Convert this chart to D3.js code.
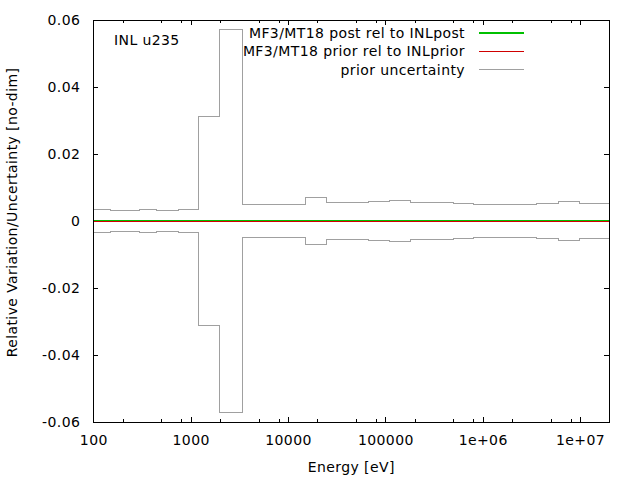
<!DOCTYPE html>
<html>
<head>
<meta charset="utf-8">
<script src="https://cdn.jsdelivr.net/npm/d3@7"></script>
<style>
  body { margin: 0; background: #fff; }
  text { font-family: "DejaVu Sans", sans-serif; font-size: 14px; fill: #000; letter-spacing: 0.4px; }
</style>
</head>
<body>
<div id="chart"></div>
<script>
// bin edges in eV and values per bin
var edges = [100, 150, 300, 450, 750, 1200, 2000, 3400, 15000, 25000, 67000,
  110000, 180000, 500000, 800000, 3.6e6, 6e6, 1e7, 2e7];
var priorUnc = [0.0035, 0.0032, 0.0035, 0.0032, 0.0035, 0.0313, 0.0573, 0.0050,
  0.0071, 0.0054, 0.0057, 0.0060, 0.0054, 0.0051, 0.0048, 0.0051, 0.0057, 0.0051];
var postRel = [0, 0, 0, 0, 0, 0, 0, 0, 0, 0, 0, 0, 0, 0, 0, 0, 0, 0];
var priorRel = [0, 0, 0, 0, 0, 0, 0, 0, 0, 0, 0, 0, 0, 0, 0, 0, 0, 0];

var xTicks = [100, 1000, 10000, 100000, 1e6, 1e7];
var xTickLabels = ["100", "1000", "10000", "100000", "1e+06", "1e+07"];
var xMinor = [200, 500, 800, 2000, 5000, 8000, 20000, 50000, 80000,
  2e5, 5e5, 8e5, 2e6, 5e6, 8e6];
var yTicks = [-0.06, -0.04, -0.02, 0, 0.02, 0.04, 0.06];
var yTickLabels = ["-0.06", "-0.04", "-0.02", "0", "0.02", "0.04", "0.06"];

var legendNames = ["MF3/MT18 post rel to INLpost", "MF3/MT18 prior rel to INLprior", "prior uncertainty"];
var colors = ["#00c000", "#d00000", "#a0a0a0"];

var svgWidth = 640;
var svgHeight = 480;
var plot = { left: 93.3, right: 609.3, top: 20, bottom: 422 };

var svg = d3.select("#chart")
  .append("svg")
  .attr("width", svgWidth)
  .attr("height", svgHeight);

var x = d3.scaleLog().domain([100, 2e7]).range([plot.left, plot.right]);
var y = d3.scaleLinear().domain([-0.06, 0.06]).range([plot.bottom, plot.top]);

// turn bin values into step points
function steps(vals, sign) {
  var pts = vals.map(function(v, i) { return [edges[i], sign * v]; });
  pts.push([edges[edges.length - 1], sign * vals[vals.length - 1]]);
  return pts;
}

var line = d3.line()
  .x(d => x(d[0]))
  .y(d => y(d[1]))
  .curve(d3.curveStepAfter);

// axes, ticks pointing inward like gnuplot
var xLabels = d3.scaleOrdinal().domain(xTicks).range(xTickLabels);
var yLabels = d3.scaleOrdinal().domain(yTicks).range(yTickLabels);

svg.append("g")
  .attr("transform", `translate(0, ${plot.bottom})`)
  .call(d3.axisBottom(x).tickValues(xTicks).tickSize(-5).tickPadding(13)
    .tickFormat(d => xLabels(d)));
svg.append("g")
  .attr("transform", `translate(0, ${plot.bottom})`)
  .call(d3.axisBottom(x).tickValues(xMinor).tickSize(-3).tickFormat(""));
svg.append("g")
  .attr("transform", `translate(0, ${plot.top})`)
  .call(d3.axisTop(x).tickValues(xTicks).tickSize(-5).tickFormat(""));
svg.append("g")
  .attr("transform", `translate(0, ${plot.top})`)
  .call(d3.axisTop(x).tickValues(xMinor).tickSize(-3).tickFormat(""));
svg.append("g")
  .attr("transform", `translate(${plot.left}, 0)`)
  .call(d3.axisLeft(y).tickValues(yTicks).tickSize(-5).tickPadding(13)
    .tickFormat(d => yLabels(d)));
svg.append("g")
  .attr("transform", `translate(${plot.right}, 0)`)
  .call(d3.axisRight(y).tickValues(yTicks).tickSize(-5).tickFormat(""));

svg.selectAll(".domain").remove();
svg.selectAll(".tick line").attr("stroke", "#000").attr("shape-rendering", "crispEdges");
svg.selectAll(".tick text").style("font-size", "14px").style("font-family", "DejaVu Sans");

// data lines
svg.append("path")
  .attr("d", line(steps(priorUnc, 1)))
  .attr("fill", "none").attr("stroke", colors[2]).attr("stroke-width", 1)
  .attr("shape-rendering", "crispEdges");
svg.append("path")
  .attr("d", line(steps(priorUnc, -1)))
  .attr("fill", "none").attr("stroke", colors[2]).attr("stroke-width", 1)
  .attr("shape-rendering", "crispEdges");
svg.append("path")
  .attr("d", line(steps(postRel, 1)))
  .attr("fill", "none").attr("stroke", colors[0]).attr("stroke-width", 2)
  .attr("shape-rendering", "crispEdges");
svg.append("path")
  .attr("d", line(steps(priorRel, 1)))
  .attr("transform", "translate(0, 0.5)")
  .attr("fill", "none").attr("stroke", colors[1]).attr("stroke-width", 1)
  .attr("shape-rendering", "crispEdges");

// border
svg.append("rect")
  .attr("x", plot.left).attr("y", plot.top)
  .attr("width", plot.right - plot.left).attr("height", plot.bottom - plot.top)
  .attr("fill", "none").attr("stroke", "#000").attr("stroke-width", 1)
  .attr("shape-rendering", "crispEdges");

// legend
var legend = svg.append("g");
legendNames.forEach(function(name, i) {
  var cy = 33 + i * 18.3;
  legend.append("text")
    .attr("x", 465).attr("y", cy + 5)
    .attr("text-anchor", "end")
    .text(name);
  legend.append("line")
    .attr("x1", 479).attr("x2", 524)
    .attr("y1", cy).attr("y2", cy)
    .attr("stroke", colors[i])
    .attr("stroke-width", i === 0 ? 2 : 1)
    .attr("shape-rendering", "crispEdges");
});

svg.append("text")
  .attr("x", 114).attr("y", 45)
  .text("INL u235");

svg.append("text")
  .attr("x", (plot.left + plot.right) / 2).attr("y", 472)
  .attr("text-anchor", "middle")
  .text("Energy [eV]");

svg.append("text")
  .attr("transform", "translate(16.5, 212.5) rotate(-90)")
  .attr("text-anchor", "middle")
  .text("Relative Variation/Uncertainty [no-dim]");
</script>
</body>
</html>
